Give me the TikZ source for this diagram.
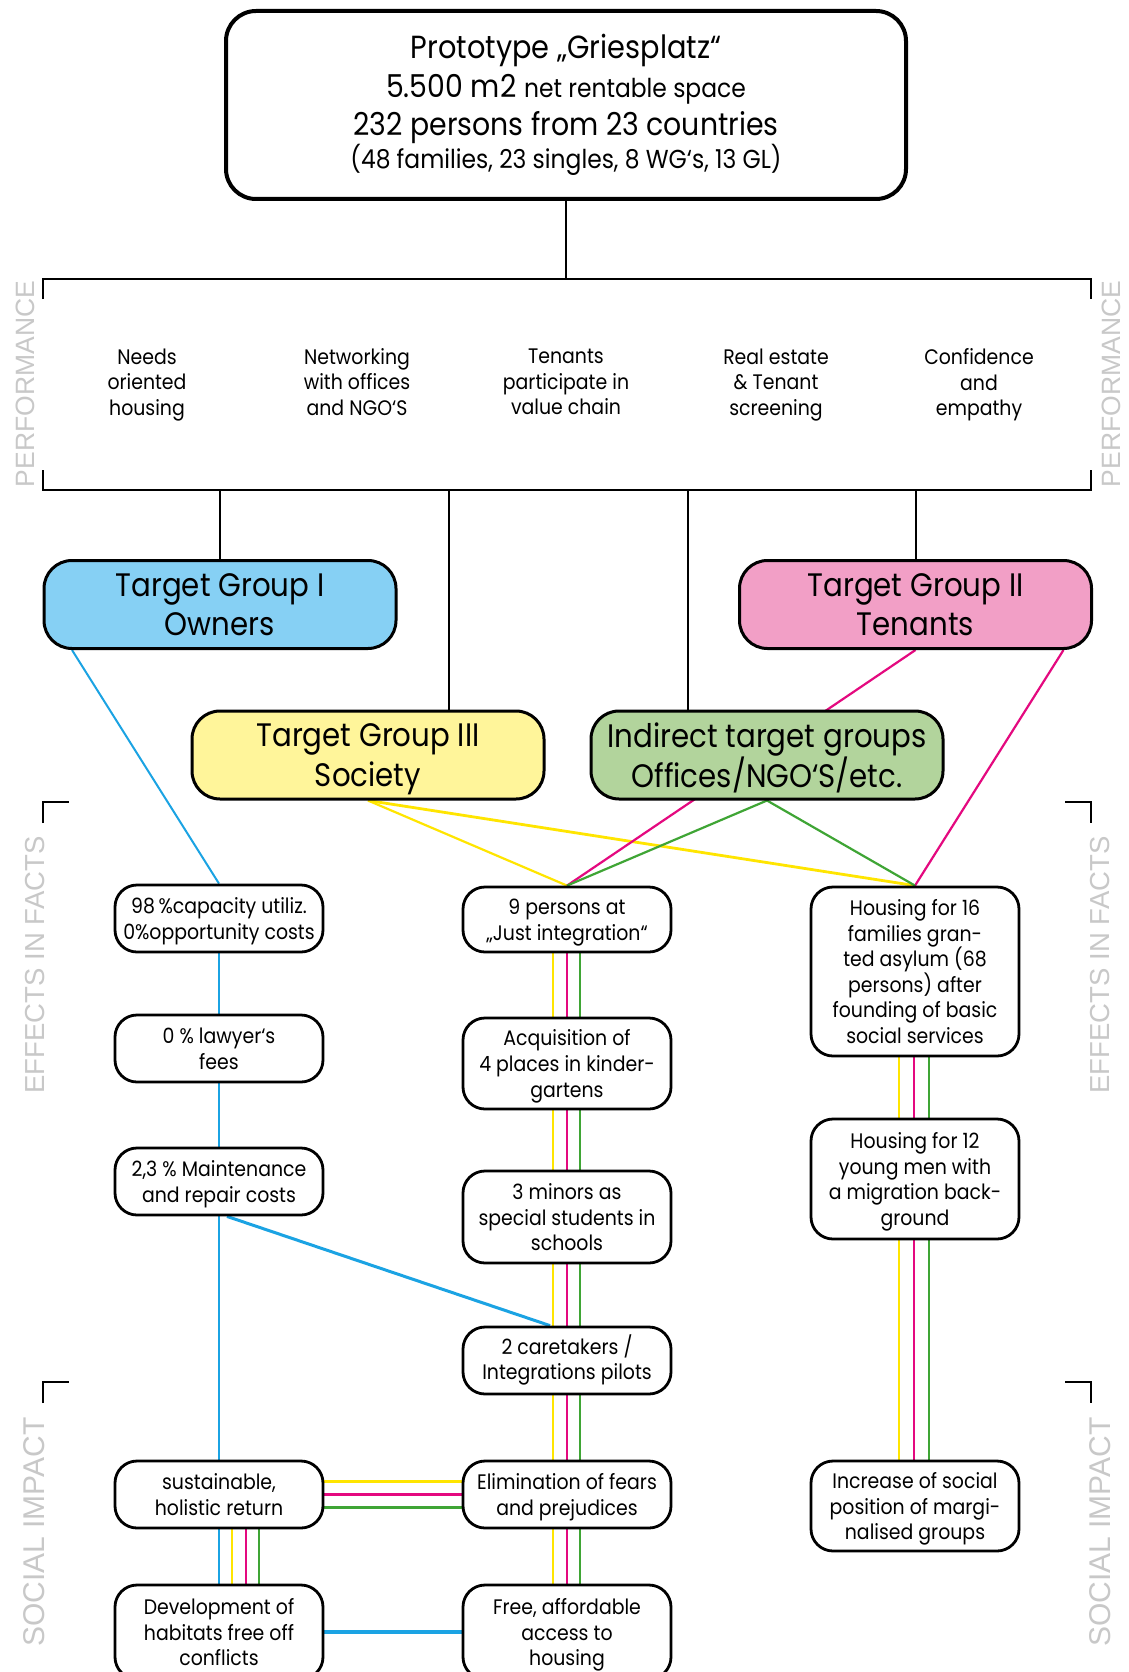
\documentclass[tikz,border=0pt]{standalone}
\usepackage{fontspec}
\setmainfont{Poppins}[FakeStretch=0.9]
\newfontfamily\labelfont{Liberation Sans}
\usetikzlibrary{backgrounds}
\definecolor{cblue}{HTML}{1BA3E3}
\definecolor{cyel}{HTML}{FFE500}
\definecolor{cpink}{HTML}{E4097F}
\definecolor{cgreen}{HTML}{3FA535}
\definecolor{fblue}{HTML}{86D0F4}
\definecolor{fpink}{HTML}{F29FC6}
\definecolor{fyel}{HTML}{FFF59A}
\definecolor{fgreen}{HTML}{B2D49C}
\definecolor{lgray}{HTML}{C8C8C8}
\tikzset{
  sbox/.style={draw=black, fill=white, line width=2.8pt, rounded corners=22pt,
    minimum width=208pt, align=center, inner sep=0pt, text depth=0pt,
    font=\fontsize{21}{25.6}\selectfont},
  tgbox/.style={draw=black, line width=3pt, rounded corners=28pt,
    minimum width=352pt, minimum height=88pt, align=center, inner sep=0pt,
    text depth=0pt, font=\fontsize{32.5}{39.5}\selectfont},
  topbox/.style={draw=black, fill=white, line width=4pt, rounded corners=30pt,
    minimum width=680pt, minimum height=188pt, align=center, inner sep=0pt,
    font=\fontsize{32}{38.5}\selectfont},
  perf/.style={align=center, inner sep=0pt, text depth=0pt,
    font=\fontsize{21}{25.6}\selectfont},
  side/.style={rotate=90, text=lgray, inner sep=0pt, font=\labelfont},
  conn/.style={draw=black, line width=2pt},
  brk/.style={draw=black, line width=2.6pt},
  bl/.style={draw=cblue, line width=2pt},
  yl/.style={draw=cyel, line width=2.2pt},
  pk/.style={draw=cpink, line width=2.2pt},
  gr/.style={draw=cgreen, line width=2.2pt},
}
\begin{document}
\begin{tikzpicture}[x=1pt,y=-1pt]
\useasboundingbox (0,0) rectangle (1128,1672);
\begin{scope}[on background layer]
\fill[white] (0,0) rectangle (1128,1672);
\end{scope}

% top box
\node[topbox] (top) at (566,105) {Prototype „Griesplatz“\\
  {\fontsize{31.5}{38.5}\selectfont 5.500 m2} {\fontsize{26}{38.5}\selectfont net rentable space}\\
  {\fontsize{31.5}{38.5}\selectfont 232 persons from 23 countries}\\[-6pt]
  {\fontsize{26}{30}\selectfont (48 families, 23 singles, 8 WG‘s, 13 GL)}};

% performance bracket
\coordinate (ptl) at (43,279);
\coordinate (ptr) at (1091,279);
\coordinate (pbl) at (43,490);
\coordinate (pbr) at (1091,490);
\draw[brk] ([yshift=-20pt]ptl) -- (ptl) -- (ptr) -- ([yshift=-20pt]ptr);
\draw[brk] ([yshift=20pt]pbl) -- (pbl) -- (pbr) -- ([yshift=20pt]pbr);

\node[perf] (p1) at (147,382) {Needs\\oriented\\housing};
\node[perf] (p2) at (357,382) {Networking\\with offices\\and NGO‘S};
\node[perf] (p3) at (566,382) {Tenants\\participate in\\value chain};
\node[perf] (p4) at (776,382) {Real estate\\\& Tenant\\screening};
\node[perf] (p5) at (979,382) {Confidence\\and\\empathy};

% side labels and corner marks
\node[side, font=\labelfont\fontsize{26.5}{28}\selectfont] (perfL) at (25,384) {PERFORMANCE};
\node[side, font=\labelfont\fontsize{26.5}{28}\selectfont] (perfR) at (1111,384) {PERFORMANCE};
\node[side, font=\labelfont\fontsize{27.5}{28}\selectfont] (effL) at (35,965) {EFFECTS IN FACTS};
\node[side, font=\labelfont\fontsize{27.5}{28}\selectfont] (effR) at (1100,965) {EFFECTS IN FACTS};
\node[side, font=\labelfont\fontsize{30}{30}\selectfont] (socL) at (34,1532) {SOCIAL IMPACT};
\node[side, font=\labelfont\fontsize{30}{30}\selectfont] (socR) at (1100,1532) {SOCIAL IMPACT};
\draw[brk] (43,823) -- (43,802) -- (69,802);
\draw[brk] (1065,802) -- (1091,802) -- (1091,823);
\draw[brk] (43,1403) -- (43,1382) -- (69,1382);
\draw[brk] (1065,1382) -- (1091,1382) -- (1091,1403);

% target groups
\node[tgbox, fill=fblue] (tg1) at (220,604.5) {Target Group I\\Owners};
\node[tgbox, fill=fpink] (tg2) at (915.5,604.5) {Target Group II\\Tenants};
\node[tgbox, fill=fyel] (tg3) at (368,755) {Target Group III\\Society};
\node[tgbox, fill=fgreen] (tgi) at (767,755) {Indirect target groups\\Offices/NGO‘S/etc.};

% column 1
\node[sbox, minimum height=67pt] (c1a) at (219,918.5) {98\,\%capacity utiliz.\\0\%opportunity costs};
\node[sbox, minimum height=67pt] (c1b) at (219,1048.5) {0 \% lawyer‘s\\fees};
\node[sbox, minimum height=67pt] (c1c) at (219,1181.5) {2,3 \% Maintenance\\and repair costs};
\node[sbox, minimum height=67pt] (c1d) at (219,1494.5) {sustainable,\\holistic return};
\node[sbox, minimum height=94pt] (c1e) at (219,1632) {Development of\\habitats free off\\conflicts};
% column 2
\node[sbox, minimum height=65pt] (c2a) at (567,919.5) {9 persons at\\„Just integration“};
\node[sbox, minimum height=91pt] (c2b) at (567,1063.5) {Acquisition of\\4 places in kinder-\\gartens};
\node[sbox, minimum height=92pt] (c2c) at (567,1217) {3 minors as\\special students in\\schools};
\node[sbox, minimum height=67pt, text depth=7pt] (c2d) at (567,1360.5) {2 caretakers /\\Integrations pilots};
\node[sbox, minimum height=67pt] (c2e) at (567,1494.5) {Elimination of fears\\and prejudices};
\node[sbox, minimum height=94pt] (c2f) at (567,1632) {Free, affordable\\access to\\housing};
% column 3
\node[sbox, minimum height=169pt] (c3a) at (915,971.5) {Housing for 16\\families gran-\\ted asylum (68\\persons) after\\founding of basic\\social services};
\node[sbox, minimum height=120pt] (c3b) at (915,1179) {Housing for 12\\young men with\\a migration back-\\ground};
\node[sbox, minimum height=90pt] (c3c) at (915,1506) {Increase of social\\position of margi-\\nalised groups};

\begin{scope}[on background layer]
% black connectors
\draw[conn] (top.south) -- (top.south |- ptl);
\draw[conn] (tg1.north |- pbl) -- (tg1.north);
\draw[conn] ([xshift=81pt]tg3.north |- pbl) -- ([xshift=81pt]tg3.north);
\draw[conn] ([xshift=-79pt]tgi.north |- pbl) -- ([xshift=-79pt]tgi.north);
\draw[conn] (tg2.north |- pbl) -- (tg2.north);
% upper coloured connectors
\draw[bl] ([xshift=-148pt]tg1.south) -- (c1a.north);
\draw[yl] (tg3.south) -- (c2a.north);
\draw[yl, line width=2.8pt] (tg3.south) -- (c3a.north);
\draw[pk] (tg2.south) -- (c2a.north);
\draw[pk] ([xshift=148pt]tg2.south) -- (c3a.north);
\draw[gr] (tgi.south) -- (c2a.north);
\draw[gr] (tgi.south) -- (c3a.north);
% column 1
\draw[bl] (c1a.south) -- (c1b.north);
\draw[bl] (c1b.south) -- (c1c.north);
\draw[bl] (c1c.south) -- (c1d.north);
\draw[bl, line width=3pt] ([xshift=8pt]c1c.south) -- ([xshift=-17pt]c2d.north);
\draw[bl] (c1d.south) -- (c1e.north);
\draw[yl] ([xshift=13pt]c1d.south) -- ([xshift=13pt]c1e.north);
\draw[pk] ([xshift=27pt]c1d.south) -- ([xshift=27pt]c1e.north);
\draw[gr] ([xshift=40pt]c1d.south) -- ([xshift=40pt]c1e.north);
% column 2
\foreach \a/\b in {c2a/c2b,c2b/c2c,c2c/c2d,c2d/c2e,c2e/c2f}{
  \draw[yl] ([xshift=-14pt]\a.south) -- ([xshift=-14pt]\b.north);
  \draw[pk] (\a.south) -- (\b.north);
  \draw[gr] ([xshift=13pt]\a.south) -- ([xshift=13pt]\b.north);
}
% column 3
\foreach \a/\b in {c3a/c3b,c3b/c3c}{
  \draw[yl] ([xshift=-16pt]\a.south) -- ([xshift=-16pt]\b.north);
  \draw[pk] ([xshift=-1pt]\a.south) -- ([xshift=-1pt]\b.north);
  \draw[gr] ([xshift=14pt]\a.south) -- ([xshift=14pt]\b.north);
}
% horizontals
\draw[yl, line width=3.6pt] ([yshift=13pt]c1d.east) -- ([yshift=13pt]c2e.west);
\draw[pk, line width=3.6pt] (c1d.east) -- (c2e.west);
\draw[gr, line width=3.6pt] ([yshift=-13pt]c1d.east) -- ([yshift=-13pt]c2e.west);
\draw[bl, line width=3.6pt] (c1e.east) -- (c2f.west);
\end{scope}
\end{tikzpicture}
\end{document}
